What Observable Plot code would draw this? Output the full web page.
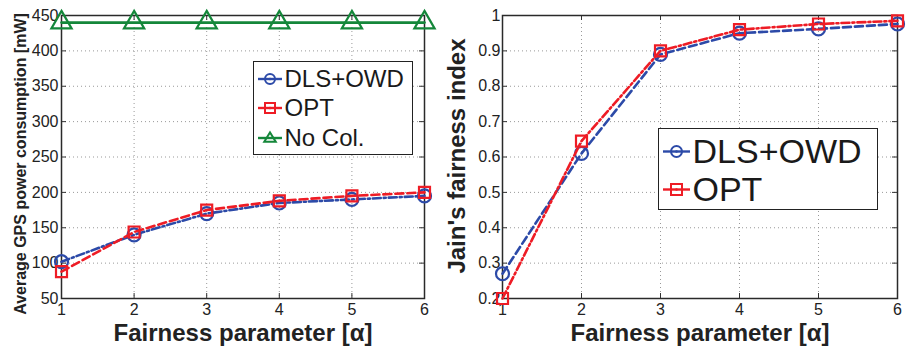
<!DOCTYPE html>
<html>
<head>
<meta charset="utf-8">
<script src="https://cdn.jsdelivr.net/npm/d3@7"></script>
<script src="https://cdn.jsdelivr.net/npm/@observablehq/plot@0.6"></script>
<style>
  html, body { margin: 0; padding: 0; background: #fff; }
  #wrap { position: relative; width: 912px; height: 348px; font-family: "Liberation Sans", Arial, Helvetica, sans-serif; }
  #wrap > div.p { position: absolute; top: 0; }
  .legend { position: absolute; background: #fff; border: 1.5px solid #222; box-sizing: border-box; color: #1a1a1a; }
  .legend .row { position: absolute; left: 0; display: flex; align-items: center; white-space: nowrap; }
  .legend svg { display: block; }
</style>
</head>
<body>
<div id="wrap">
  <div class="p" id="left" style="left:0"></div>
  <div class="p" id="right" style="left:440px"></div>
</div>
<script>
// ---- data ----
const alphas = [1, 2, 3, 4, 5, 6];
const powerTicks = [50, 100, 150, 200, 250, 300, 350, 400, 450];
const fairTicks = [0.2, 0.3, 0.4, 0.5, 0.6, 0.7, 0.8, 0.9, 1];

const powerDLS = [102, 140, 170, 185, 190, 195];
const powerOPT = [88, 144, 175, 188, 195, 200];
const powerNoCol = [440, 440, 440, 440, 440, 440];

const fairDLS = [0.27, 0.61, 0.89, 0.95, 0.962, 0.976];
const fairOPT = [0.20, 0.645, 0.90, 0.96, 0.976, 0.985];

const seriesNames = ["DLS+OWD", "OPT", "No Col."];
const xTitle = "Fairness parameter [α]";
const yTitleLeft = "Average GPS power consumption [mW]";
const yTitleRight = "Jain's fairness index";

const BLUE = "#2c4aa8", RED = "#ee1c25", GREEN = "#14873a";
const DASH = "8,4", DASHDOT = "8,3,2,3";
const FONT = '"Liberation Sans", Arial, Helvetica, sans-serif';

function rows(ys) { return alphas.map((a, i) => ({a, v: ys[i]})); }

function frameDecor(ticksY, innerW, innerH) {
  return [
    Plot.gridX(alphas, {stroke: "#999", strokeOpacity: 1, strokeDasharray: "1,3", strokeWidth: 1}),
    Plot.gridY(ticksY, {stroke: "#999", strokeOpacity: 1, strokeDasharray: "1,3", strokeWidth: 1}),
    // inward ticks (box style)
    Plot.tickX(alphas, {x: d => d, stroke: "#333", strokeWidth: 1, insetTop: innerH - 5}),
    Plot.tickX(alphas, {x: d => d, stroke: "#333", strokeWidth: 1, insetBottom: innerH - 5}),
    Plot.tickY(ticksY, {y: d => d, stroke: "#333", strokeWidth: 1, insetRight: innerW - 5}),
    Plot.tickY(ticksY, {y: d => d, stroke: "#333", strokeWidth: 1, insetLeft: innerW - 5}),
    Plot.frame({stroke: "#2a2a2a", strokeWidth: 1.5})
  ];
}

function seriesMarks(data, color, dash, symbol, r) {
  return [
    Plot.line(data, {x: "a", y: "v", stroke: color, strokeWidth: 2.6, strokeDasharray: dash}),
    Plot.dot(data, {x: "a", y: "v", stroke: color, strokeWidth: 2.2, fill: "none", symbol, r})
  ];
}

// ---- left chart ----
{
  const W = 440, H = 348, mL = 61, mR = 16, mT = 15, mB = 50;
  const innerW = W - mL - mR, innerH = H - mT - mB;
  const p = Plot.plot({
    width: W, height: H,
    marginLeft: mL, marginRight: mR, marginTop: mT, marginBottom: mB,
    style: {fontFamily: FONT, fontSize: "16px", color: "#222", background: "transparent", overflow: "visible"},
    x: {domain: [1, 6]},
    y: {domain: [50, 450]},
    marks: [
      ...frameDecor(powerTicks, innerW, innerH),
      Plot.axisX(alphas, {tickSize: 0, tickPadding: 5, label: null, fontSize: 16, tickFormat: d => String(d)}),
      Plot.axisY(powerTicks, {tickSize: 0, tickPadding: 3, label: null, fontSize: 16, tickFormat: d => String(d)}),
      ...seriesMarks(rows(powerDLS), BLUE, DASHDOT, "circle", 6.5),
      ...seriesMarks(rows(powerOPT), RED, DASH, "square", 6.2),
      ...seriesMarks(rows(powerNoCol), GREEN, null, "triangle", 7.5),
      Plot.text([xTitle], {frameAnchor: "bottom", lineAnchor: "middle", textAnchor: "middle", dy: 35, fontSize: 24, fontWeight: "bold", fill: "#222"}),
      Plot.text([yTitleLeft], {frameAnchor: "left", textAnchor: "middle", lineAnchor: "middle", dx: -41, dy: 7, rotate: -90, fontSize: 16, fontWeight: "bold", fill: "#222"})
    ]
  });
  document.getElementById("left").appendChild(p);
}

// ---- right chart ----
{
  const W = 472, H = 348, mL = 62, mR = 15, mT = 15, mB = 50;
  const innerW = W - mL - mR, innerH = H - mT - mB;
  const p = Plot.plot({
    width: W, height: H,
    marginLeft: mL, marginRight: mR, marginTop: mT, marginBottom: mB,
    style: {fontFamily: FONT, fontSize: "16px", color: "#222", background: "transparent", overflow: "visible"},
    x: {domain: [1, 6]},
    y: {domain: [0.2, 1]},
    marks: [
      ...frameDecor(fairTicks, innerW, innerH),
      Plot.axisX(alphas, {tickSize: 0, tickPadding: 5, label: null, fontSize: 16, tickFormat: d => String(d)}),
      Plot.axisY(fairTicks, {tickSize: 0, tickPadding: 2, label: null, fontSize: 16, tickFormat: d => String(d)}),
      ...seriesMarks(rows(fairDLS), BLUE, DASH, "circle", 6.5),
      ...seriesMarks(rows(fairOPT), RED, DASHDOT, "square", 6.2),
      Plot.text([xTitle], {frameAnchor: "bottom", lineAnchor: "middle", textAnchor: "middle", dy: 35, fontSize: 24, fontWeight: "bold", fill: "#222"}),
      Plot.text([yTitleRight], {frameAnchor: "left", textAnchor: "middle", lineAnchor: "middle", dx: -45, dy: -1, rotate: -90, fontSize: 24, fontWeight: "bold", fill: "#222"})
    ]
  });
  document.getElementById("right").appendChild(p);
}

// ---- legends (HTML overlays) ----
function icon(color, dash, symbol, w, s) {
  const h = s * 2 + 6, cy = h / 2, cx = w / 2;
  let m = "";
  if (symbol === "circle") m = `<circle cx="${cx}" cy="${cy}" r="${s}" fill="none" stroke="${color}" stroke-width="2"/>`;
  else if (symbol === "square") m = `<rect x="${cx - s}" y="${cy - s}" width="${2 * s}" height="${2 * s}" fill="none" stroke="${color}" stroke-width="2"/>`;
  else m = `<path d="M${cx - s * 1.15},${cy + s * 0.75}L${cx},${cy - s * 1.1}L${cx + s * 1.15},${cy + s * 0.75}Z" fill="none" stroke="${color}" stroke-width="2"/>`;
  const line = `<line x1="0" x2="${w}" y1="${cy}" y2="${cy}" stroke="${color}" stroke-width="2.4"/>`;
  const dot = symbol === "triangle" ? "" : `<circle cx="${cx}" cy="${cy}" r="1.3" fill="${color}"/>`;
  return `<svg width="${w}" height="${h}">${line}${m}${dot}</svg>`;
}
function legend(box, items) {
  const d = document.createElement("div");
  d.className = "legend";
  Object.assign(d.style, {left: box.x + "px", top: box.y + "px", width: box.w + "px", height: box.h + "px"});
  items.forEach(it => {
    const r = document.createElement("div");
    r.className = "row";
    r.style.top = (it.cy - box.y - 20) + "px";
    r.style.height = "40px";
    r.style.left = (box.iconX - box.x - 1.5) + "px";
    r.innerHTML = icon(it.color, it.dash, it.symbol, box.iconW, box.s) +
      `<span style="font-size:${box.fs}px;margin-left:${box.gap}px;line-height:40px">${it.name}</span>`;
    d.appendChild(r);
  });
  document.getElementById("wrap").appendChild(d);
}
legend({x: 253, y: 61, w: 160, h: 94, iconX: 258, iconW: 24, s: 5, fs: 24, gap: 3},
  [{name: seriesNames[0], color: BLUE, symbol: "circle", cy: 78},
   {name: seriesNames[1], color: RED, symbol: "square", cy: 107},
   {name: seriesNames[2], color: GREEN, symbol: "triangle", cy: 137}]);
legend({x: 658, y: 128, w: 220, h: 82, iconX: 663, iconW: 27, s: 5.5, fs: 34, gap: 3},
  [{name: seriesNames[0], color: BLUE, symbol: "circle", cy: 150},
   {name: seriesNames[1], color: RED, symbol: "square", cy: 188}]);
</script>
</body>
</html>
